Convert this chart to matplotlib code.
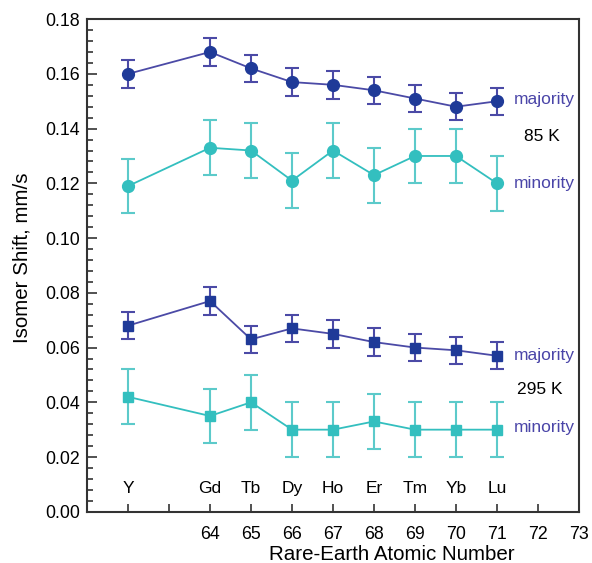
import matplotlib
matplotlib.use("Agg")
import matplotlib.pyplot as plt
from matplotlib.ticker import MultipleLocator, FixedLocator

plt.rcParams['font.family'] = ['Liberation Sans', 'DejaVu Sans']

elements = ['Y', 'Gd', 'Tb', 'Dy', 'Ho', 'Er', 'Tm', 'Yb', 'Lu']
# Y is put at 62 so it sits left of the lanthanides
z = [62, 64, 65, 66, 67, 68, 69, 70, 71]

maj_85 = [0.160, 0.168, 0.162, 0.157, 0.156, 0.154, 0.151, 0.148, 0.150]
min_85 = [0.119, 0.133, 0.132, 0.121, 0.132, 0.123, 0.130, 0.130, 0.120]
maj_295 = [0.068, 0.077, 0.063, 0.067, 0.065, 0.062, 0.060, 0.059, 0.057]
min_295 = [0.042, 0.035, 0.040, 0.030, 0.030, 0.033, 0.030, 0.030, 0.030]
err_maj = 0.005
err_min = 0.010

c_maj_line = '#4b4aa6'
c_maj_mark = '#1f3a98'
c_min = '#33bfbf'
c_min_err = '#5ccaca'

fig = plt.figure(figsize=(5.92, 5.63), dpi=100)
ax = fig.add_axes([0.147, 0.091, 0.831, 0.875])

def series(y, err, marker, ms, line_c, mark_c, err_c):
    ax.errorbar(z, y, yerr=err, fmt='none', ecolor=err_c, elinewidth=1.5,
                capsize=5, capthick=1.5, zorder=2)
    ax.plot(z, y, '-', color=line_c, lw=1.3, zorder=3)
    ax.plot(z, y, marker, color=mark_c, ms=ms, mec=mark_c, ls='none', zorder=4)

series(maj_85, err_maj, 'o', 8.5, c_maj_line, c_maj_mark, c_maj_line)
series(min_85, err_min, 'o', 8.5, c_min, c_min, c_min_err)
series(maj_295, err_maj, 's', 7.5, c_maj_line, c_maj_mark, c_maj_line)
series(min_295, err_min, 's', 7.5, c_min, c_min, c_min_err)

# element names along the bottom of the plot
for xi, name in zip(z, elements):
    ax.text(xi, 0.0085, name, ha='center', va='center', fontsize=12.5)

lab_c = '#4a45a8'
ax.text(71.4, 0.1505, 'majority', color=lab_c, fontsize=12.5, va='center')
ax.text(71.65, 0.137, '85 K', color='black', fontsize=12.5, va='center')
ax.text(71.4, 0.1198, 'minority', color=lab_c, fontsize=12.5, va='center')
ax.text(71.4, 0.057, 'majority', color=lab_c, fontsize=12.5, va='center')
ax.text(71.5, 0.0446, '295 K', color='black', fontsize=12.5, va='center')
ax.text(71.4, 0.0307, 'minority', color=lab_c, fontsize=12.5, va='center')

ax.set_xlim(61, 73)
ax.set_ylim(0, 0.18)
ax.xaxis.set_major_locator(FixedLocator([62, 63, 64, 65, 66, 67, 68, 69, 70, 71, 72, 73]))
ax.set_xticklabels(['', '', '64', '65', '66', '67', '68', '69', '70', '71', '72', '73'])
ax.yaxis.set_major_locator(MultipleLocator(0.02))
ax.yaxis.set_minor_locator(MultipleLocator(0.004))
ax.yaxis.set_major_formatter(plt.FormatStrFormatter('%.2f'))

ax.tick_params(axis='both', which='both', direction='in', labelsize=12.8,
               color='#333333', width=1.2)
ax.tick_params(axis='x', which='major', length=6, pad=10)
ax.tick_params(axis='y', which='major', length=7, pad=5)
ax.tick_params(axis='y', which='minor', length=4)
for s in ax.spines.values():
    s.set_linewidth(1.5)
    s.set_color('#333333')

ax.set_xlabel('Rare-Earth Atomic Number', fontsize=14.8)
ax.set_ylabel('Isomer Shift, mm/s', fontsize=14.8)
# x label sits under the lanthanide part of the axis
ax.xaxis.set_label_coords(0.62, -0.068)
ax.yaxis.set_label_coords(-0.113, 0.515)

fig.savefig('out.png', dpi=100)
